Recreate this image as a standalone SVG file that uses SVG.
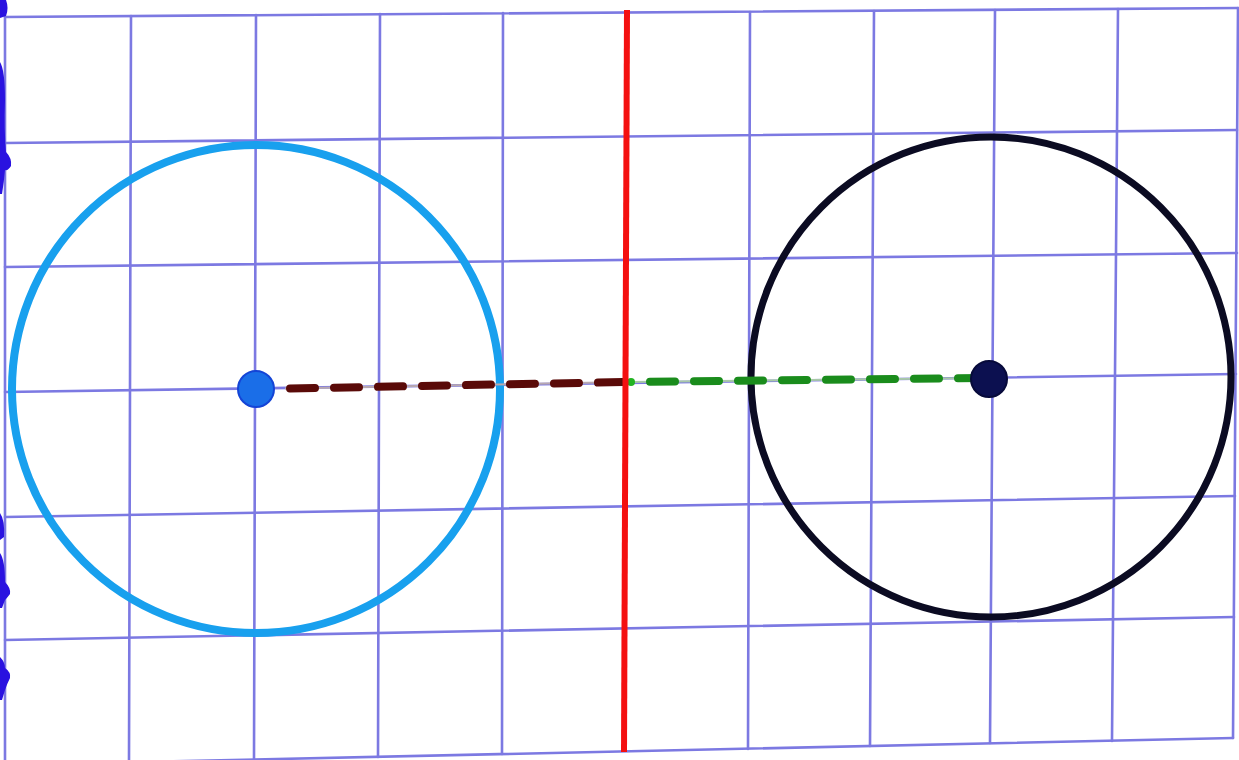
<svg xmlns="http://www.w3.org/2000/svg" width="1239" height="760" viewBox="0 0 1239 760">
<style>
.g{stroke:#7c79e2;stroke-width:2.6;fill:none;stroke-linecap:round}
.blob{fill:#2a12e0}
</style>
<rect width="1239" height="760" fill="#ffffff"/>
<g id="grid">
<line class="g" x1="5" y1="17" x2="1238" y2="8"/>
<line class="g" x1="5" y1="143" x2="1237" y2="130"/>
<line class="g" x1="5" y1="267" x2="1237" y2="253"/>
<line class="g" x1="5" y1="392" x2="1236" y2="374"/>
<line class="g" x1="5" y1="517" x2="1235" y2="496"/>
<line class="g" x1="5" y1="640" x2="1234" y2="617"/>
<line class="g" x1="5" y1="765" x2="1233" y2="738"/>
<line class="g" x1="5" y1="17" x2="5" y2="765"/>
<line class="g" x1="131" y1="16" x2="129" y2="762"/>
<line class="g" x1="256" y1="15" x2="254" y2="760"/>
<line class="g" x1="380" y1="14" x2="378" y2="757"/>
<line class="g" x1="503" y1="13" x2="502" y2="754"/>
<line class="g" x1="750" y1="12" x2="748" y2="749"/>
<line class="g" x1="874" y1="11" x2="870" y2="746"/>
<line class="g" x1="995" y1="10" x2="990" y2="743"/>
<line class="g" x1="1118" y1="9" x2="1112" y2="741"/>
<line class="g" x1="1238" y1="8" x2="1233" y2="738"/>
</g>
<g id="edge-marks">
<path class="blob" d="M0 0 L6 0 Q9 8 6 16 L0 18 Z"/>
<path class="blob" d="M0 62 Q5 70 5 100 Q4 130 6 152 Q12 158 11 166 Q8 171 5 170 Q4 182 2 194 L0 194 Z"/>
<path class="blob" d="M0 513 Q5 520 4 537 L0 540 Z"/>
<path class="blob" d="M0 553 Q5 560 5 582 Q11 588 10 594 Q7 598 5 600 L2 608 L0 608 Z"/>
<path class="blob" d="M0 657 Q5 662 5 668 Q11 672 10 678 Q7 684 5 690 L2 700 L0 700 Z"/>
</g>
<g id="circle-left">
<circle cx="256" cy="389" r="244" fill="none" stroke="#18a0ee" stroke-width="8"/>
</g>
<g id="circle-right">
<circle cx="991" cy="377" r="240" fill="none" stroke="#0b0b22" stroke-width="7"/>
</g>
<g id="connectors">
<line x1="285" y1="388.5" x2="627" y2="382" stroke="#b9a9b0" stroke-width="2"/>
<line x1="290" y1="388.5" x2="627" y2="382" stroke="#5a0a08" stroke-width="8" stroke-linecap="round" stroke-dasharray="25 19"/>
<line x1="630" y1="382" x2="985" y2="378" stroke="#a8c8a8" stroke-width="2"/>
<line x1="650" y1="381.8" x2="985" y2="378" stroke="#1a8c1c" stroke-width="8" stroke-linecap="round" stroke-dasharray="25 19"/>
<circle cx="631" cy="382" r="4" fill="#22b422"/>
</g>
<g id="mirror">
<line x1="627" y1="10" x2="624" y2="752" stroke="#f41010" stroke-width="6"/>
</g>
<g id="center-left">
<circle cx="256" cy="389" r="18" fill="#1a6ee8" stroke="#1444d6" stroke-width="2"/>
</g>
<g id="center-right">
<circle cx="989" cy="379" r="18" fill="#0c1050" stroke="#070a3a" stroke-width="2"/>
</g>
</svg>
